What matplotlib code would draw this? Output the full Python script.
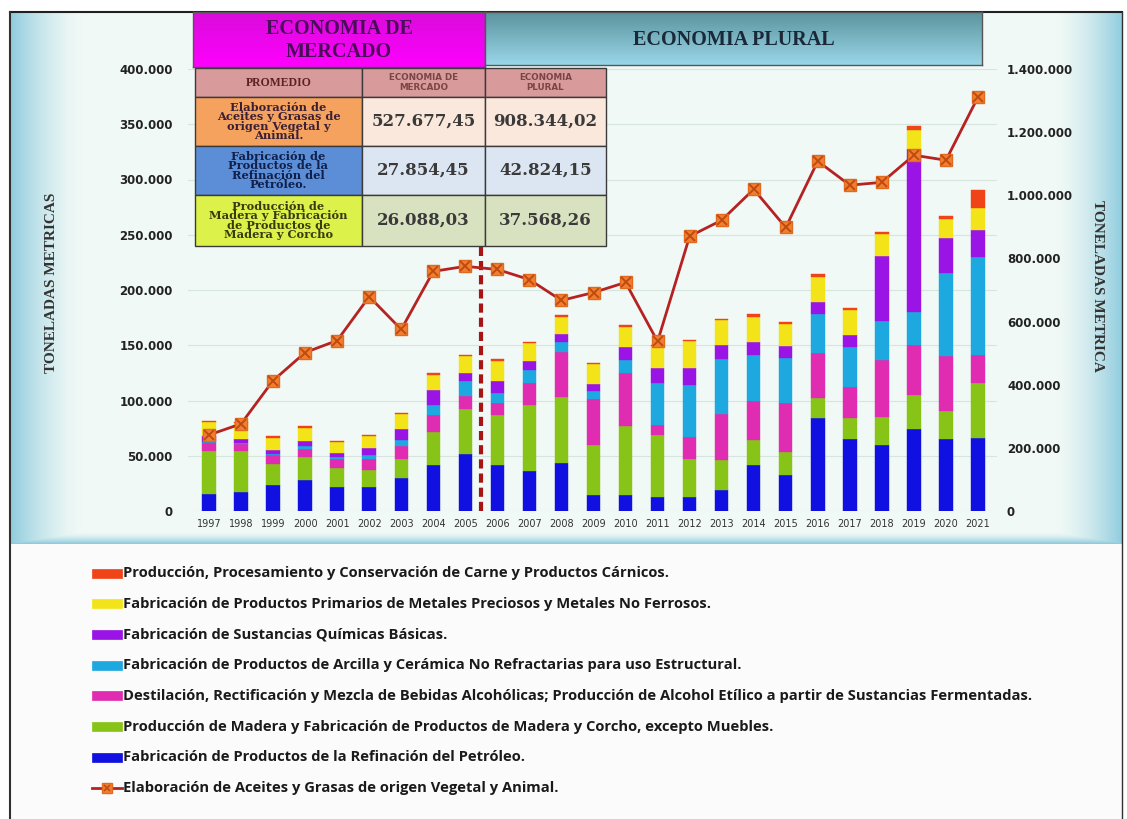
import numpy as np
import matplotlib
matplotlib.use("Agg")
import matplotlib.pyplot as plt
import matplotlib.ticker as mtick
from matplotlib.patches import Rectangle

# ---- data (toneladas metricas) ----
years = list(range(1997, 2022))

petroleo = [15.5, 17.5, 23.5, 28.5, 22, 22, 29.5, 41.5, 51.5, 41.5, 36.5, 43.5, 14.5,
            14.5, 13, 13, 19, 41.5, 32.5, 84, 65.3, 59.5, 74.4, 65.3, 66.5]
madera = [39, 37, 19, 20, 17, 15, 17.5, 30, 40.5, 45.6, 59, 60, 45, 62, 56, 34, 27,
          23, 21, 18.7, 19, 25.7, 30.8, 24.8, 49]
bebidas = [7, 6, 8, 8, 8, 10, 12, 15, 12, 10.6, 20, 40, 42, 48, 9, 20, 42, 34.8, 44,
           40, 28, 51, 45, 50, 25.7]
arcilla = [1, 1, 1, 2, 1.5, 4, 5, 9, 14, 9, 12, 9, 7.5, 12, 37.8, 47, 50, 42, 41, 36,
           36, 36, 30, 75.6, 89]
quimicas = [5, 4, 4, 5, 4, 6, 10, 14, 7, 11, 8, 7.5, 6, 12, 13.6, 15, 12, 12, 10.6,
            10.6, 10.6, 59, 147, 31.8, 24]
metales = [13, 14, 11, 12, 10, 11, 14, 14, 15, 18, 16.6, 16, 18, 18, 19.7, 24.8, 22.7,
           22.7, 19.7, 22.7, 22.7, 19.7, 18, 16.6, 19.7]
carne = [1, 1, 1, 1, 1, 1, 1, 1, 1.5, 1.5, 1, 1.5, 1, 1.5, 1, 1, 1.5, 2, 2, 2.4, 2,
         2, 3, 3, 16.6]
aceites = [241, 276, 413, 502, 540, 679, 575, 759, 775, 765, 733, 667, 692, 724, 537,
           870, 921, 1019, 898, 1108, 1032, 1041, 1127, 1111, 1311]

names = [
    "Fabricación de Productos de la Refinación del Petróleo.",
    "Producción de Madera y Fabricación de Productos de Madera y Corcho, excepto Muebles.",
    "Destilación, Rectificación y Mezcla de Bebidas Alcohólicas; Producción de Alcohol Etílico a partir de Sustancias Fermentadas.",
    "Fabricación de Productos de Arcilla y Cerámica No Refractarias para uso Estructural.",
    "Fabricación de Sustancias Químicas Básicas.",
    "Fabricación de Productos Primarios de Metales Preciosos y Metales No Ferrosos.",
    "Producción, Procesamiento y Conservación de Carne y Productos Cárnicos.",
]
line_name = "Elaboración de Aceites y Grasas de origen Vegetal y Animal."

# promedio table
tab_head = ["PROMEDIO", "ECONOMIA DE\nMERCADO", "ECONOMIA\nPLURAL"]
tab_rows = ["Elaboración de\nAceites y Grasas de\norigen Vegetal y\nAnimal.",
            "Fabricación de\nProductos de la\nRefinación del\nPetróleo.",
            "Producción de\nMadera y Fabricación\nde Productos de\nMadera y Corcho"]
tab_mercado = ["527.677,45", "27.854,45", "26.088,03"]
tab_plural = ["908.344,02", "42.824,15", "37.568,26"]

colors = ['#1010e0', '#88c418', '#e02cb0', '#1ea8e0', '#9a14e6', '#f2e418', '#f04418']
series = [petroleo, madera, bebidas, arcilla, quimicas, metales, carne]
line_col = '#b52222'

W, H = 1127, 819
fig = plt.figure(figsize=(W / 100, H / 100), dpi=100)

# background with blue edges
bg = fig.add_axes([0, 0, 1, 1])
bg.set_zorder(-5)
yy, xx = np.mgrid[0:H, 0:W]
img = np.ones((H, W, 3))
center = np.array([0.945, 0.978, 0.965])
edge = np.array([0.56, 0.80, 0.87])
wl = np.clip(1 - (xx - 10) / 75.0, 0, 1)
wr = np.clip(1 - (1122 - xx) / 70.0, 0, 1)
wb = np.clip(1 - (543 - yy) / 12.0, 0, 1)
w = np.maximum(np.maximum(wl, wr), wb) ** 1.6
reg = (xx >= 10) & (xx <= 1122) & (yy >= 12) & (yy <= 543)
img[reg] = center * (1 - w[reg, None]) + edge * w[reg, None]
reg2 = (xx >= 10) & (xx <= 1122) & (yy > 543)
img[reg2] = [0.985, 0.985, 0.985]
bg.imshow(img, extent=(0, W, H, 0), aspect='auto')
bg.plot([10, 1122], [12, 12], color='#202020', lw=1.5)
bg.plot([10, 10], [12, H], color='#303030', lw=1.5)
bg.plot([1122, 1122], [12, H], color='#303030', lw=1)
bg.set_xlim(0, W)
bg.set_ylim(H, 0)
bg.axis('off')

# header boxes
def header(x0, x1, y0, y1, top, bot, text, tcolor, fs, ls):
    hx = fig.add_axes([x0 / W, 1 - y1 / H, (x1 - x0) / W, (y1 - y0) / H])
    t = np.linspace(0, 1, 60)[:, None]
    grad = np.array(top)[None, None, :] * (1 - t[..., None]) + np.array(bot)[None, None, :] * t[..., None]
    grad = np.repeat(grad, 2, axis=1)
    hx.imshow(grad, extent=(0, 1, 0, 1), aspect='auto')
    hx.text(0.5, 0.48, text, ha='center', va='center', color=tcolor, fontsize=fs,
            family='Liberation Serif', weight='bold', linespacing=ls)
    hx.set_xticks([])
    hx.set_yticks([])
    for s in hx.spines.values():
        s.set_color('#555555')
        s.set_linewidth(1)

header(193, 485, 12, 67, (0.85, 0.05, 0.85), (1.0, 0.0, 1.0), "ECONOMIA DE\nMERCADO", '#4b0b5b', 14.5, 1.15)
header(485, 982, 12, 65, (0.36, 0.58, 0.62), (0.60, 0.84, 0.91), "ECONOMIA PLURAL", '#1a2838', 14.5, 1.0)

# main axes
x_lo, x_hi = 1996.35, 2021.6
px_per = 32.04
left_px = 209 - (1997 - x_lo) * px_per
right_px = 978 + (x_hi - 2021) * px_per
ax = fig.add_axes([left_px / W, 1 - 511 / H, (right_px - left_px) / W, 442 / H])
ax.set_facecolor('none')

bottom = np.zeros(len(years))
for vals, c, n in zip(series, colors, names):
    v = np.array(vals) * 1000
    ax.bar(years, v, width=0.42, bottom=bottom, color=c, edgecolor=c, linewidth=0.3,
           label=n, zorder=3)
    bottom += v

ax.axvline(2005.5, ymin=0, ymax=0.6, color='#a81414', ls=(0, (2.2, 1.2)), lw=3, zorder=4)

ax.set_xlim(x_lo, x_hi)
ax.set_ylim(0, 400000)
ax.set_yticks(range(0, 400001, 50000))
ax.set_xticks(years)
fmt = mtick.FuncFormatter(lambda v, p: f'{v:,.0f}'.replace(',', '.'))
ax.yaxis.set_major_formatter(fmt)
ax.tick_params(axis='y', length=0, pad=11, labelsize=8.5, labelcolor='#222222')
ax.tick_params(axis='x', length=0, pad=6, labelsize=7, labelcolor='#333333')
for lab in ax.get_yticklabels():
    lab.set_fontweight('bold')
ax.yaxis.grid(True, color='#d6e6de', lw=0.8)
ax.set_axisbelow(True)
for s in ax.spines.values():
    s.set_visible(False)

ax2 = ax.twinx()
ax2.plot(years, np.array(aceites) * 1000, color=line_col, lw=2, marker='s', ms=9,
         mfc='#f08030', mec='#e06a20', zorder=3)
ax2.plot(years, np.array(aceites) * 1000, ls='none', marker='x', ms=7, mew=1.4,
         color='#c24a10', zorder=4)
ax2.set_ylim(0, 1400000)
ax2.set_yticks(range(0, 1400001, 200000))
ax2.yaxis.set_major_formatter(fmt)
ax2.tick_params(axis='y', length=0, pad=7, labelsize=8.5, labelcolor='#222222')
for lab in ax2.get_yticklabels():
    lab.set_fontweight('bold')
for s in ax2.spines.values():
    s.set_visible(False)

# promedio table (axes fraction coords)
axw = right_px - left_px
cx = [(195 - left_px) / axw, (362 - left_px) / axw, (485 - left_px) / axw, (606 - left_px) / axw]
ry = [(511 - y) / 442 for y in [68, 97, 146, 195, 246]]
label_col = ['#f5a25f', '#5b8ed6', '#dcf24a']
cell_col = ['#fbe8dc', '#dce6f2', '#d9e2c0']
label_txt = ['#3b2035', '#10204a', '#3a3a10']

def cell(c0, c1, r0, r1, fc):
    ax2.add_patch(Rectangle((cx[c0], ry[r1]), cx[c1] - cx[c0], ry[r0] - ry[r1],
                            transform=ax2.transAxes, facecolor=fc, edgecolor='#3a3a3a',
                            lw=1, clip_on=False, zorder=10))

def cell_text(c, r, s, **kw):
    ax2.text((cx[c] + cx[c + 1]) / 2, (ry[r] + ry[r + 1]) / 2, s, transform=ax2.transAxes,
             ha='center', va='center', zorder=11, clip_on=False, **kw)

for c in range(3):
    cell(c, c + 1, 0, 1, '#d99a9c')
cell_text(0, 0, tab_head[0], family='Liberation Serif', weight='bold', fontsize=8.5, color='#5b2323')
cell_text(1, 0, tab_head[1], family='DejaVu Sans', weight='bold', fontsize=6.3, color='#7a4545', linespacing=1.0)
cell_text(2, 0, tab_head[2], family='DejaVu Sans', weight='bold', fontsize=6.3, color='#7a4545', linespacing=1.0)
for i in range(3):
    cell(0, 1, i + 1, i + 2, label_col[i])
    cell(1, 2, i + 1, i + 2, cell_col[i])
    cell(2, 3, i + 1, i + 2, cell_col[i])
    cell_text(0, i + 1, tab_rows[i], family='DejaVu Serif', weight='bold', fontsize=8.2,
              color=label_txt[i], linespacing=0.85)
    cell_text(1, i + 1, tab_mercado[i], family='DejaVu Serif', weight='bold', fontsize=12, color='#3a3a3a')
    cell_text(2, i + 1, tab_plural[i], family='DejaVu Serif', weight='bold', fontsize=12, color='#3a3a3a')

# axis titles
fig.text(52 / W, 1 - 283 / H, "TONELADAS METRICAS", rotation=90, ha='center', va='center',
         family='Liberation Serif', weight='bold', fontsize=11, color='#333333')
fig.text(1097 / W, 1 - 286 / H, "TONELADAS METRICA", rotation=270, ha='center', va='center',
         family='Liberation Serif', weight='bold', fontsize=11, color='#333333')

# legend, one row every ~30.7 px, drawn in pixel coords of the background axes
leg_font = {'family': 'Open Sans', 'weight': 'bold', 'size': 10.6, 'color': '#1a1a1a'}
for i, (c, n) in enumerate(zip(colors[::-1], names[::-1])):
    y = 573 + i * 30.7
    bg.add_patch(Rectangle((92, y - 4.5), 30, 9, facecolor=c, edgecolor=c, lw=0.5))
    bg.text(123, y, n, va='center', ha='left', **leg_font)
y = 573 + 7 * 30.7
bg.plot([92, 122], [y, y], color=line_col, lw=2)
bg.plot([107], [y], marker='s', ms=7, mfc='#f08030', mec='#e06a20')
bg.plot([107], [y], marker='x', ms=5, mew=1.2, color='#c24a10')
bg.text(123, y, line_name, va='center', ha='left', **leg_font)

fig.savefig('out.png', dpi=100)
